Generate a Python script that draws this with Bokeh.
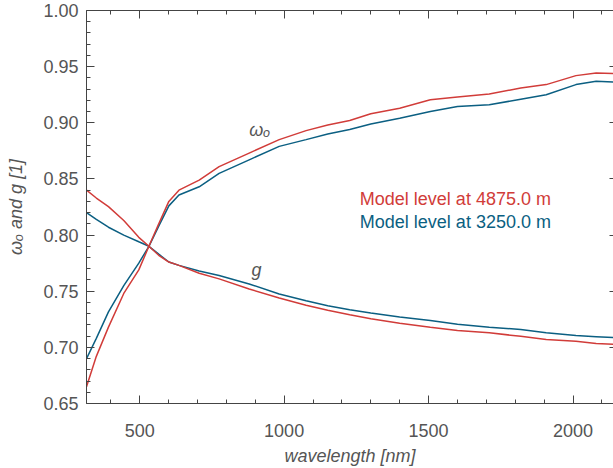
from bokeh.plotting import figure
from bokeh.models import LinearAxis, SingleIntervalTicker, NumeralTickFormatter, Range1d, CustomJSTickFormatter
from bokeh.core.properties import value
from bokeh.embed import file_html
from bokeh.resources import INLINE

wavelength = [316, 350, 392, 445, 497, 532, 566, 601, 636, 706, 775, 879, 983, 1076,
              1151, 1227, 1300, 1400, 1506, 1600, 1710, 1819, 1907, 2010, 2080, 2140]
omega_4875 = [0.665, 0.692, 0.718, 0.748, 0.769, 0.790, 0.810, 0.830, 0.840, 0.849, 0.861,
              0.873, 0.885, 0.893, 0.898, 0.902, 0.908, 0.913, 0.9205, 0.923, 0.9256,
              0.931, 0.934, 0.942, 0.9443, 0.9438]
omega_3250 = [0.690, 0.708, 0.7316, 0.755, 0.775, 0.790, 0.808, 0.826, 0.8357, 0.843, 0.855,
              0.867, 0.879, 0.885, 0.890, 0.894, 0.899, 0.904, 0.910, 0.9146, 0.916,
              0.921, 0.925, 0.934, 0.937, 0.9363]
g_4875 = [0.840, 0.833, 0.8253, 0.813, 0.798, 0.790, 0.782, 0.776, 0.773, 0.766, 0.761,
          0.752, 0.744, 0.7375, 0.733, 0.729, 0.7255, 0.7215, 0.718, 0.715, 0.713,
          0.7098, 0.707, 0.7055, 0.7035, 0.7027]
g_3250 = [0.820, 0.814, 0.807, 0.800, 0.794, 0.790, 0.783, 0.776, 0.773, 0.768, 0.764,
          0.7565, 0.7475, 0.7415, 0.737, 0.7335, 0.7305, 0.727, 0.724, 0.7205, 0.718,
          0.7158, 0.713, 0.7105, 0.7095, 0.7087]
legend_labels = ["Model level at 4875.0 m", "Model level at 3250.0 m"]
legend_x = [1262, 1262]
legend_y = [0.8322, 0.8116]
curve_labels = ["\u03c9\u2092", "g"]
curve_label_x = [879, 887]
curve_label_y = [0.8934, 0.7685]

RED = "#d13c39"
BLUE = "#0b5f82"
TXT = "#555555"
FONT = "Liberation Sans"

p = figure(width=613, height=468, output_backend="svg", toolbar_location=None,
           x_range=Range1d(316, 2140), y_range=Range1d(0.65, 1.00),
           min_border_left=86, min_border_right=0, min_border_top=10, min_border_bottom=0)
p.outline_line_color = None
p.xgrid.visible = False
p.ygrid.visible = False
p.background_fill_color = "white"
p.border_fill_color = "white"

xt = SingleIntervalTicker(interval=500, num_minor_ticks=5)
yt = SingleIntervalTicker(interval=0.05, num_minor_ticks=5)

def style(ax, labels=True):
    ax.axis_line_color = "#444444"
    ax.axis_line_width = 1
    ax.major_tick_in = 8
    ax.major_tick_out = 0
    ax.minor_tick_in = 4
    ax.minor_tick_out = 0
    ax.major_tick_line_color = "#444444"
    ax.minor_tick_line_color = "#444444"
    ax.major_label_text_font = FONT
    ax.major_label_text_font_size = "18px"
    ax.major_label_text_color = TXT
    ax.axis_label_text_font = FONT
    ax.axis_label_text_font_size = "18px"
    ax.axis_label_text_font_style = "italic"
    ax.axis_label_text_color = TXT
    if not labels:
        ax.formatter = CustomJSTickFormatter(code="return '';")
        ax.major_label_standoff = 0

p.xaxis.ticker = xt
p.yaxis.ticker = yt
p.yaxis.formatter = NumeralTickFormatter(format="0.00")
style(p.xaxis[0])
style(p.yaxis[0])
p.xaxis.axis_label = "wavelength [nm]"
p.yaxis.axis_label = "\u03c9\u2092 and g [1]"
p.xaxis.major_label_standoff = 20
p.xaxis.axis_label_standoff = 6
p.yaxis.major_label_standoff = 8
p.yaxis.axis_label_standoff = 14

top = LinearAxis(ticker=SingleIntervalTicker(interval=500, num_minor_ticks=5))
style(top, labels=False)
p.add_layout(top, "above")
right = LinearAxis(ticker=SingleIntervalTicker(interval=0.05, num_minor_ticks=5))
style(right, labels=False)
right.axis_line_alpha = 0
right.minor_tick_line_alpha = 0
right.major_tick_in = 4
p.add_layout(right, "right")

p.line(wavelength, omega_3250, line_color=BLUE, line_width=1.5)
p.line(wavelength, g_3250, line_color=BLUE, line_width=1.5)
p.line(wavelength, omega_4875, line_color=RED, line_width=1.5)
p.line(wavelength, g_4875, line_color=RED, line_width=1.5)

p.text(legend_x, legend_y, text=legend_labels, text_color=[RED, BLUE],
       text_font=value(FONT), text_font_size="18px", text_baseline="middle", text_align="left")
p.text(curve_label_x, curve_label_y, text=curve_labels, text_color=TXT,
       text_font=value(FONT), text_font_size="18px", text_font_style="italic",
       text_baseline="middle", text_align="left")

open("out.html", "w").write(file_html(p, INLINE))
